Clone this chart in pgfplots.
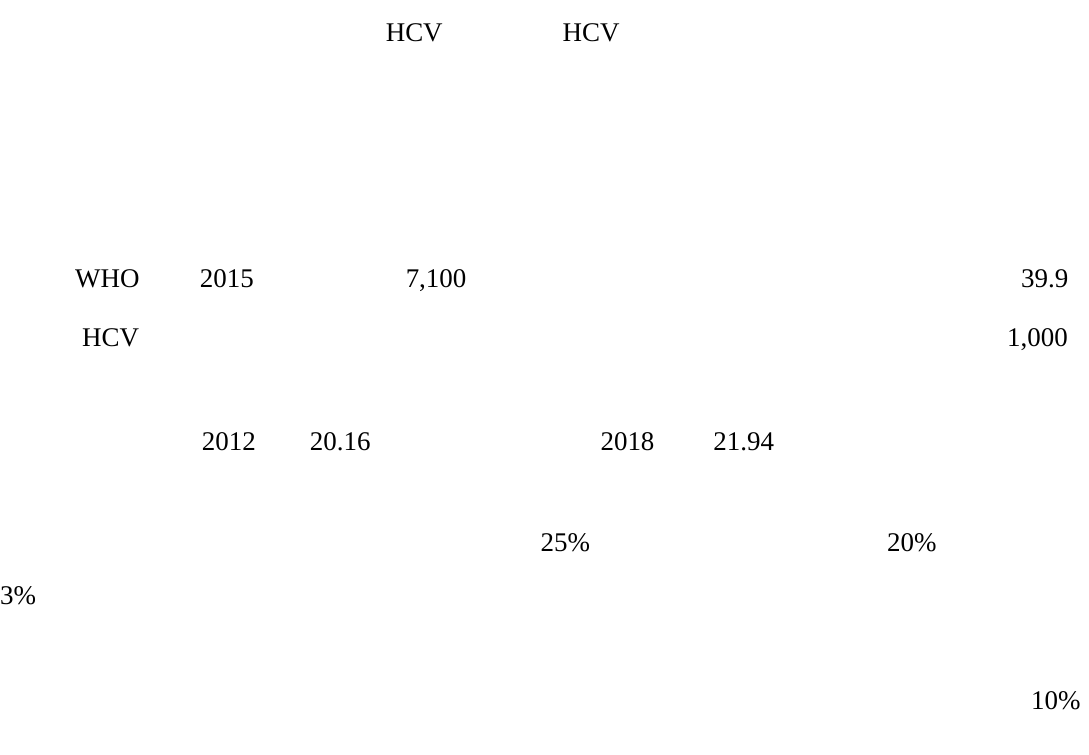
\documentclass[border=0pt]{standalone}
\usepackage{fontspec}
\setmainfont{Liberation Serif}
\usepackage{pgfplots}
\pgfplotsset{compat=1.18}
\begin{document}
\begin{tikzpicture}
\begin{axis}[
  width=1089pt, height=754pt, scale only axis,
  xmin=0, xmax=1089, ymin=0, ymax=754, y dir=reverse,
  hide axis, clip=false,
  nodes near coords, point meta=explicit symbolic,
  nodes near coords style={anchor=base west, inner sep=0pt, font=\fontsize{27}{32}\selectfont, text=black},
]
\addplot[draw=none] coordinates {(0,0) (1089,754)};
\addplot[only marks, mark=none] coordinates {
  (386,41) [HCV]
  (563,41) [HCV]
  (75,287) [WHO]
  (200,287) [2015]
  (406,287) [{7,100}]
  (1022,287) [39.9]
  (82,346) [HCV]
  (1008,346) [{1,000}]
  (202,450) [2012]
  (310,450) [20.16]
  (601,450) [2018]
  (714,450) [21.94]
  (541,552) [25\%]
  (888,552) [20\%]
  (0,605) [3\%]
  (1032,710) [10\%]
};
\end{axis}
\end{tikzpicture}
\end{document}
